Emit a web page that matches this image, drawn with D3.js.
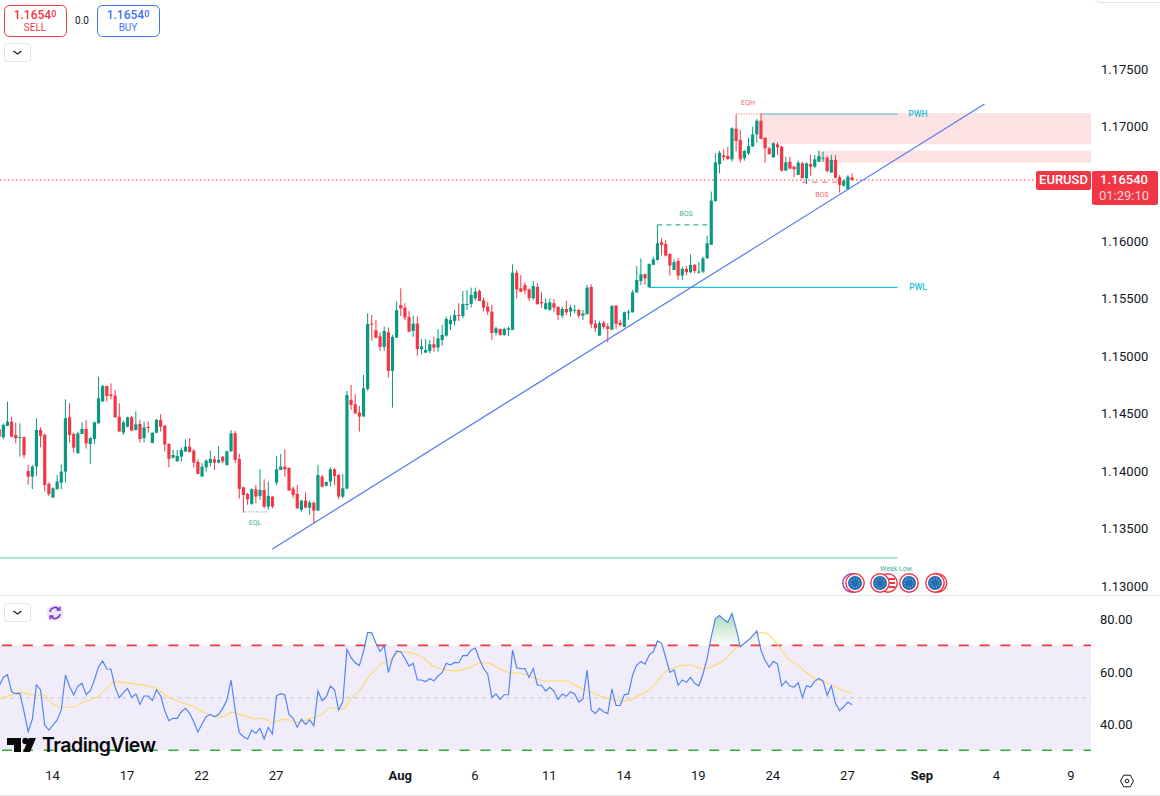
<!DOCTYPE html>
<html>
<head>
<meta charset="utf-8">
<script src="https://cdn.jsdelivr.net/npm/d3@7/dist/d3.min.js"></script>
<style>
html,body{margin:0;padding:0;background:#fff;overflow:hidden}
svg{display:block;font-family:Roboto,"Liberation Sans",sans-serif}
</style>
</head>
<body>
<svg id="c" width="1160" height="796"></svg>
<script>
// Prices are in 1/100000 units
const opens = [
114364,114294,114393,114431,114315,114291,114294,114001,113952,114039,
114358,114315,113888,113769,113842,113900,113996,114468,114323,114155,
114323,114367,114236,114280,114416,114605,114741,114668,114657,114474,
114335,114387,114468,114358,114410,114288,114384,114245,114335,114445,
114396,114236,114117,114085,114126,114170,114213,114178,114080,113952,
114033,114071,114103,114074,114126,114054,114172,114329,114106,113859,
113801,113714,113842,113784,113836,113691,113778,113900,114010,114039,
114027,113848,113801,113662,113743,113682,113726,113656,113952,113874,
113909,114016,113967,113778,113848,114620,114582,114509,114475,114715,
115284,115226,115173,115081,115208,114872,115162,115446,115423,115342,
115220,115284,115063,115031,115046,115104,115075,115141,115179,115278,
115307,115359,115350,115446,115455,115504,115568,115487,115431,115388,
115202,115237,115185,115229,115229,115727,115591,115620,115582,115504,
115603,115472,115411,115405,115461,115431,115353,115411,115388,115394,
115403,115353,115365,115603,115284,115179,115292,115260,115231,115440,
115292,115255,115379,115382,115556,115655,115713,115600,115795,115838,
115992,115977,115890,115751,115829,115702,115760,115731,115795,115728,
115737,115853,115969,116351,116673,116749,116743,116714,116981,116882,
116723,116766,116824,116931,117050,116902,116810,116731,116844,116824,
116615,116693,116650,116578,116679,116549,116673,116650,116693,116720,
116728,116598,116708,116557,116485,116453,116557];
const highs = [
114364,114416,114605,114474,114422,114416,114306,114054,114054,114460,
114381,114329,113903,113859,113967,114059,114625,114590,114335,114344,
114425,114445,114300,114431,114822,114750,114741,114764,114706,114590,
114439,114474,114480,114520,114445,114431,114431,114335,114454,114494,
114401,114242,114184,114184,114207,114277,114286,114193,114103,114068,
114103,114178,114132,114219,114132,114178,114358,114349,114149,113865,
113813,113850,113880,114016,113929,113909,113784,114132,114149,114190,
114033,113865,113880,113749,113813,113743,113735,114054,113967,113909,
114033,114025,113975,113975,114700,114750,114669,114567,114837,115373,
115359,115315,115208,115258,115249,115185,115475,115591,115461,115394,
115353,115347,115150,115150,115141,115170,115237,115272,115345,115353,
115403,115461,115568,115577,115597,115597,115582,115510,115475,115446,
115258,115243,115249,115258,115800,115750,115707,115643,115591,115655,
115634,115556,115504,115504,115498,115431,115431,115481,115446,115446,
115411,115403,115620,115626,115316,115307,115307,115286,115446,115446,
115316,115388,115403,115577,115785,115852,115722,115808,115867,116143,
116027,116012,115896,115844,115858,115780,115786,115887,115803,115818,
115867,116050,116433,116766,116789,116801,116824,116992,117105,116969,
116795,116902,116998,117065,117114,116902,116824,116862,116862,116830,
116737,116737,116656,116702,116693,116685,116752,116752,116789,116781,
116743,116752,116752,116577,116540,116577,116592];
const lows = [
114286,114277,114393,114294,114242,114126,114112,113880,113842,113958,
114207,113822,113784,113769,113842,113842,113900,114248,114161,114155,
114323,114196,114062,114236,114416,114605,114605,114625,114468,114344,
114315,114381,114352,114352,114248,114248,114335,114242,114329,114344,
114170,114033,114111,114083,114083,114170,114161,114033,113975,113952,
113996,114039,114010,114068,114068,114048,114170,114068,113761,113639,
113706,113706,113720,113749,113677,113662,113677,113877,114010,113952,
113830,113764,113668,113648,113677,113619,113540,113656,113856,113865,
113865,113880,113755,113764,113842,114533,114495,114344,114475,114698,
115133,115156,115046,115046,114814,114553,115162,115350,115315,115208,
115170,115005,115017,115031,115026,115040,115040,115092,115170,115228,
115266,115307,115330,115403,115423,115484,115481,115388,115359,115141,
115179,115179,115179,115176,115229,115504,115556,115539,115481,115490,
115452,115423,115403,115394,115382,115316,115330,115359,115345,115373,
115330,115316,115365,115243,115208,115179,115237,115121,115231,115237,
115258,115255,115316,115382,115548,115620,115620,115600,115795,115832,
115876,115867,115702,115751,115664,115664,115707,115722,115722,115716,
115722,115847,115969,116345,116592,116702,116708,116693,116781,116685,
116702,116752,116824,116859,116891,116685,116752,116728,116752,116607,
116615,116627,116557,116578,116549,116499,116569,116635,116693,116693,
116598,116598,116548,116424,116476,116453,116528];
const closes = [
114300,114402,114431,114300,114286,114297,114140,113952,114039,114358,
114306,113880,113801,113850,113909,113996,114460,114315,114204,114329,
114367,114242,114286,114425,114634,114741,114654,114654,114468,114344,
114425,114468,114352,114407,114280,114381,114378,114335,114445,114387,
114230,114106,114140,114132,114184,114213,114167,114074,113975,114039,
114091,114106,114074,114097,114085,114172,114329,114097,113845,113792,
113755,113842,113778,113836,113691,113784,113691,114016,114039,114016,
113830,113792,113677,113743,113682,113726,113656,113967,113865,113906,
114016,113958,113778,113850,114662,114576,114503,114474,114721,115281,
115275,115162,115081,115220,114872,115168,115400,115417,115336,115214,
115284,115063,115086,115055,115104,115075,115156,115185,115324,115315,
115359,115350,115455,115455,115533,115562,115481,115423,115388,115202,
115243,115185,115237,115243,115727,115582,115562,115571,115504,115611,
115452,115461,115461,115469,115423,115359,115411,115382,115423,115403,
115353,115371,115597,115278,115243,115289,115255,115237,115437,115281,
115272,115382,115388,115556,115663,115713,115678,115803,115844,115983,
115969,115876,115789,115818,115702,115760,115731,115795,115742,115737,
115853,115983,116354,116685,116772,116731,116717,116984,116873,116714,
116786,116830,116931,117050,116891,116810,116760,116853,116818,116615,
116688,116633,116627,116685,116549,116679,116650,116714,116743,116728,
116612,116708,116554,116491,116525,116563,116534];

const rsiValues = [
54.5,57.8,58.8,52.3,51.6,51.7,44.7,37.1,41.8,54.9,
53.0,39.6,37.7,39.6,41.6,45.4,58.7,54.3,51.1,54.5,
55.5,51.3,52.7,56.8,61.9,64.0,61.0,60.9,54.0,50.1,
52.0,53.6,50.2,51.5,47.5,50.7,50.7,49.0,53.0,50.8,
45.1,41.3,42.2,42.2,44.7,46.0,44.1,40.9,37.0,40.0,
42.8,43.7,42.8,43.7,46.0,49.2,56.8,45.4,36.7,35.2,
34.3,37.7,36.5,38.4,34.3,38.8,36.2,50.8,51.6,51.1,
43.7,42.2,38.8,41.8,39.9,41.6,39.3,52.6,48.9,50.4,
54.5,53.0,45.4,48.5,68.5,65.3,63.4,62.3,67.6,75.0,
74.8,70.8,67.6,69.9,59.6,65.0,67.8,67.6,65.0,62.1,
63.2,56.8,56.8,56.2,57.3,56.5,58.3,59.6,63.2,62.5,
63.5,63.4,66.1,66.1,68.2,69.0,64.7,61.2,59.1,50.1,
51.5,49.4,51.2,51.2,68.2,61.5,61.1,61.2,57.8,61.2,
54.8,54.8,52.6,54.0,52.6,49.4,51.5,50.6,52.3,51.5,
48.4,49.5,60.6,45.4,44.0,46.0,44.7,44.0,53.4,47.1,
47.1,51.2,51.5,58.7,62.5,63.8,62.8,66.3,67.6,71.7,
70.8,65.4,59.7,60.7,54.8,56.8,55.9,57.8,55.5,54.6,
59.1,65.0,73.3,80.3,81.4,79.9,78.8,82.2,76.5,69.4,
70.8,72.0,73.7,75.5,68.2,64.2,61.7,63.9,62.9,54.5,
56.4,54.5,54.1,55.8,50.1,54.6,54.1,56.4,57.4,56.4,
51.0,54.6,47.9,45.1,46.6,48.4,47.4];

const rsiMaBars = [0,4,5,8,11,12,15,18,20,23,26,28,30,33,36,38,41,44,47,50,53,55,56,58,61,64,66,69,72,75,78,80,83,85,87,89,90,92,94,96,97,100,102,104,
105,107,110,113,115,116,118,120,123,126,129,132,135,137,140,142,145,148,151,153,155,157,159,161,163,165,167,169,170,172,174,176,178,180,182,184,185,187,189,191,193,195,197,199,201,203,206];
const rsiMaValues = [49.4,51.7,52.2,51.1,51.1,48.9,46.4,46.6,48.2,49.7,53.6,56.2,55.9,55.3,54.5,53.5,50.2,48.2,46.6,44.1,42.7,43.5,44.5,43.8,42.3,41.9,40.7,41.8,40.7,42.1,43.8,46.2,45.7,49.8,52.7,57.4,59.3,62.5,64.0,66.7,67.6,67.0,65.7,63.2,
61.9,61.0,60.3,61.2,62.5,63.2,63.2,61.9,59.7,59.3,57.8,56.3,56.5,56.4,54.0,53.0,50.8,49.4,48.9,49.7,51.3,53.0,56.2,60.0,61.5,62.4,62.5,61.4,61.1,61.9,63.2,65.7,68.9,70.8,73.6,74.8,74.8,72.3,68.2,64.4,62.5,59.7,57.4,56.2,54.9,53.4,51.8];

const priceTicks = [1.175,1.17,1.16,1.155,1.15,1.145,1.14,1.135,1.13];
const rsiTicks = [80,60,40];
const timeTickBars = [13,31,49,67,97,115,133,151,169,187,205,223,241,259];
const timeTickLabels = ["14","17","22","27","Aug","6","11","14","19","24","27","Sep","4","9"];
const boldTimeLabels = ["Aug","Sep"];
const lastPrice = 1.1654;
const trendBars = [66,238];
const trendPrices = [1.13322,1.17195];
const weakLowLevel = 1.13244, pwhLevel = 1.17108, pwlLevel = 1.15600;
const supplyZoneA = [1.17117,1.16847], supplyZoneB = [1.16789,1.16684];
const bosUpLevel = 1.16143, bosDownLevel = 1.16515, eqlLevel = 1.13645;

const W=1160,H=796;
const red="#f23645",green="#089981",cyan="#22c1d6",ink="#131722",grid="#e0e3eb";
const svg=d3.select("#c");
const x=d3.scaleLinear().domain([0,206]).range([-0.81,852.03]);
const y=d3.scaleLinear().domain([1.13,1.175]).range([586,69]);
const yR=d3.scaleLinear().domain([30,70]).range([750.3,645.4]);
const X=i=>x(i);
const paneRight=1091;

// Zones
[[supplyZoneA,184],[supplyZoneB,198]].forEach(([z,start])=>{
  svg.append("rect").attr("x",x(start)).attr("width",paneRight-x(start))
    .attr("y",y(z[0])).attr("height",y(z[1])-y(z[0])).attr("fill","#fde3e4");
});

// Weak low, PWH, PWL
const hline=(b0,b1,p,stroke,w,dash)=>svg.append("line").attr("x1",x(b0)).attr("x2",x(b1)).attr("y1",y(p)).attr("y2",y(p))
  .attr("stroke",stroke).attr("stroke-width",w).attr("stroke-dasharray",dash||null);
hline(x.invert(0),217,weakLowLevel,"#79d0c2",1.2);
hline(184,217,pwhLevel,"#74c4d3",1.2);
hline(157,217,pwlLevel,cyan,1.2);

// Last price line, straddling two pixel rows like the source's soft dots
const lastY=Math.round(y(lastPrice))+1;
svg.append("line").attr("x1",0).attr("x2",1035).attr("y1",lastY).attr("y2",lastY)
  .attr("stroke",red).attr("stroke-width",1).attr("stroke-dasharray","1.5 2.5");

// Candles
const idx=d3.range(opens.length);
const col=i=>closes[i]>=opens[i]?green:red;
const g=svg.append("g");
g.selectAll("line.w").data(idx).join("line").attr("x1",X).attr("x2",X)
  .attr("y1",i=>y(highs[i]/1e5)).attr("y2",i=>y(lows[i]/1e5)).attr("stroke",col).attr("stroke-width",1);
g.selectAll("rect.b").data(idx).join("rect").attr("x",i=>X(i)-1.6).attr("width",3.2)
  .attr("y",i=>y(Math.max(opens[i],closes[i])/1e5))
  .attr("height",i=>Math.max(1,Math.abs(y(opens[i]/1e5)-y(closes[i]/1e5)))).attr("fill",col);

// Structure annotations
hline(178,184,pwhLevel,red,1,"1 1.5").attr("opacity",.75);
hline(159,171,bosUpLevel,green,1,"5 4");
hline(194,203,bosDownLevel,red,1,"5 5").attr("opacity",.8);
hline(59,65,eqlLevel,green,1,"1 1.5").attr("opacity",.8);

const note=(t,px,py,c,fs)=>svg.append("text").attr("x",px).attr("y",py).attr("text-anchor","middle")
  .attr("dominant-baseline","middle").attr("font-size",fs||7).attr("fill",c).attr("opacity",.8).text(t);
note("EQH",748,103,red);
note("BOS",686,214,green);
note("BOS",822,195,red);
note("EQL",255,523,green);
note("Weak Low",896,569,green);
note("PWH",918,114.5,cyan,8.5).attr("opacity",1).attr("font-weight",500);
note("PWL",918,287.5,cyan,8.5).attr("opacity",1).attr("font-weight",500);

// Trend line
svg.append("line").attr("x1",x(trendBars[0])).attr("x2",x(trendBars[1]))
  .attr("y1",y(trendPrices[0])).attr("y2",y(trendPrices[1]))
  .attr("stroke","#5079f0").attr("stroke-width",1.2);

// News flags
function flag(cx,cy,kind){
  const f=svg.append("g");
  if(kind==="eu"){
    f.append("circle").attr("cx",cx).attr("cy",cy).attr("r",9.2).attr("fill","#fff").attr("stroke",red).attr("stroke-width",1.4);
    f.append("circle").attr("cx",cx).attr("cy",cy).attr("r",7).attr("fill","#1f6fc0");
    d3.range(10).forEach(a=>f.append("circle").attr("cx",cx+4.4*Math.cos(a*Math.PI/5)).attr("cy",cy+4.4*Math.sin(a*Math.PI/5)).attr("r",.6).attr("fill","#e3c23a"));
  } else if(kind==="us"){
    f.append("circle").attr("cx",cx).attr("cy",cy).attr("r",9.2).attr("fill","#fff").attr("stroke",red).attr("stroke-width",1.4);
    [-4,0,4].forEach(d=>f.append("rect").attr("x",cx-7).attr("y",cy+d-1).attr("width",14).attr("height",2).attr("fill",red));
  } else if(kind==="ring"){
    f.append("circle").attr("cx",cx).attr("cy",cy).attr("r",9.2).attr("fill","#fff").attr("stroke",red).attr("stroke-width",1.4);
  } else {
    f.append("circle").attr("cx",cx).attr("cy",cy).attr("r",9.2).attr("fill","#fff").attr("stroke","#9c3fc4").attr("stroke-width",1.4);
  }
}
flag(852,583,"purple"); flag(855,583,"eu");
flag(888,583,"us"); flag(880,583,"eu");
flag(909,583,"eu");
flag(937.5,583,"ring"); flag(935,583,"eu");

// Pane separators
svg.append("line").attr("x1",0).attr("x2",W).attr("y1",595.5).attr("y2",595.5).attr("stroke",grid);
svg.append("line").attr("x1",0).attr("x2",W).attr("y1",795.5).attr("y2",795.5).attr("stroke",grid);
svg.append("path").attr("d","M1095,0 Q1097,2.5 1101,2.5 H1160").attr("fill","none").attr("stroke",grid);

// RSI pane
svg.append("rect").attr("x",0).attr("width",paneRight).attr("y",yR(70)).attr("height",yR(30)-yR(70)).attr("fill","#f0ecfa");
const defs=svg.append("defs");
const grad=defs.append("linearGradient").attr("id","ob").attr("gradientUnits","userSpaceOnUse")
  .attr("x1",0).attr("x2",0).attr("y1",yR(82)).attr("y2",yR(70));
grad.append("stop").attr("offset",0).attr("stop-color","#2e9e4f").attr("stop-opacity",.38);
grad.append("stop").attr("offset",1).attr("stop-color","#2e9e4f").attr("stop-opacity",.02);
const rsiArea=d3.area().x((d,i)=>X(i)).y0(yR(70)).y1(d=>yR(Math.max(d,70)));
svg.append("path").attr("d",rsiArea(rsiValues)).attr("fill","url(#ob)");
const rsiDash=(v,c,w)=>svg.append("line").attr("x1",2).attr("x2",paneRight).attr("y1",yR(v)).attr("y2",yR(v))
  .attr("stroke",c).attr("stroke-width",w).attr("stroke-dasharray","10 10.8");
rsiDash(70,red,1.6); rsiDash(30,"#2fae3c",1.6);
rsiDash(50,"#c9c9d2",1).attr("stroke-dasharray","4 4");
svg.append("path").attr("d",d3.line().x((d,i)=>X(rsiMaBars[i])).y(d=>yR(d)).curve(d3.curveMonotoneX)(rsiMaValues))
  .attr("fill","none").attr("stroke","#ffd966").attr("stroke-width",1.1);
svg.append("path").attr("d",d3.line().x((d,i)=>X(i)).y(d=>yR(d))(rsiValues))
  .attr("fill","none").attr("stroke","#4f82f5").attr("stroke-width",1.15);

// Price axis
const axP=svg.append("g").attr("transform","translate(1101,0)").call(d3.axisRight(y).tickValues(priceTicks).tickSize(0).tickPadding(0).tickFormat(d3.format(".5f")));
axP.select(".domain").remove(); axP.selectAll("text").attr("font-family","Roboto").attr("font-size",13).attr("fill",ink);
const axR=svg.append("g").attr("transform","translate(1100,0.6)").call(d3.axisRight(yR).tickValues(rsiTicks).tickSize(0).tickPadding(0).tickFormat(d3.format(".2f")));
axR.select(".domain").remove(); axR.selectAll("text").attr("font-family","Roboto").attr("font-size",13).attr("fill",ink);
// Time axis
const axT=svg.append("g").attr("transform","translate(-1,771)").call(d3.axisBottom(x).tickValues(timeTickBars).tickSize(0).tickPadding(0).tickFormat((d,i)=>timeTickLabels[i]));
axT.select(".domain").remove(); axT.selectAll("text").attr("font-family","Roboto").attr("font-size",13).attr("fill",ink)
  .attr("font-weight",(d,i)=>boldTimeLabels.includes(timeTickLabels[i])?700:400);

// Price labels
svg.append("rect").attr("x",1036).attr("y",171).attr("width",55).attr("height",19).attr("rx",2).attr("fill",red);
svg.append("text").attr("x",1063.5).attr("y",181).attr("text-anchor","middle").attr("dominant-baseline","middle").attr("fill","#fff").attr("font-size",13).attr("font-weight",500).text("EURUSD");
svg.append("rect").attr("x",1092).attr("y",171).attr("width",66).attr("height",34).attr("rx",2).attr("fill",red);
svg.append("text").attr("x",1124).attr("y",181).attr("text-anchor","middle").attr("dominant-baseline","middle").attr("fill","#fff").attr("font-size",13).attr("font-weight",500).text(d3.format(".5f")(lastPrice));
svg.append("text").attr("x",1124).attr("y",197).attr("text-anchor","middle").attr("dominant-baseline","middle").attr("fill","#ffd5d9").attr("font-size",13).text("01:29:10");

// Top buttons
function tradeBtn(bx,c,label){
  svg.append("rect").attr("x",bx+.5).attr("y",5.5).attr("width",62).attr("height",31).attr("rx",5).attr("fill","#fff").attr("stroke",c).attr("stroke-width",1);
  const t=svg.append("text").attr("x",bx+31).attr("y",19).attr("text-anchor","middle").attr("font-size",12).attr("fill",c).attr("font-weight",500).text("1.1654");
  t.append("tspan").attr("font-size",9).attr("dy",-2).text("0");
  svg.append("text").attr("x",bx+31).attr("y",31).attr("text-anchor","middle").attr("font-size",10).attr("fill",c).text(label);
}
tradeBtn(4,red,"SELL"); tradeBtn(97,"#3d74f5","BUY");
svg.append("text").attr("x",82).attr("y",24).attr("text-anchor","middle").attr("font-size",10).attr("fill",ink).text("0.0");
function dropdown(dy){
  svg.append("rect").attr("x",4.5).attr("y",dy+.5).attr("width",26).attr("height",18).attr("rx",3).attr("fill","#fff").attr("stroke",grid);
  svg.append("path").attr("d",`M13.5,${dy+8} l4,3 l4,-3`).attr("fill","none").attr("stroke",ink).attr("stroke-width",1.2);
}
dropdown(43); dropdown(603);
// Reload icon
svg.append("circle").attr("cx",55).attr("cy",613).attr("r",8.5).attr("fill","#ede7f6");
svg.append("path").attr("d","M50,612 a5,5 0 0 1 9,-2.5 M60,614 a5,5 0 0 1 -9,2.5").attr("fill","none").attr("stroke","#7a2fd0").attr("stroke-width",1.6);
svg.append("path").attr("d","M60,606.5 v3.5 h-3.5 M50,619.5 v-3.5 h3.5").attr("fill","none").attr("stroke","#7a2fd0").attr("stroke-width",1.3);

// Logo
svg.append("path").attr("d","M7,738 H21 V752 H14 V745 H7 Z").attr("fill","#0b0b0b");
svg.append("circle").attr("cx",25.5).attr("cy",741).attr("r",3.2).attr("fill","#0b0b0b");
svg.append("path").attr("d","M29,738 H36 L30,752 H23 Z").attr("fill","#0b0b0b");
svg.append("text").attr("x",42).attr("y",752).attr("font-family","Inter").attr("font-size",19.5).attr("font-weight",600).attr("fill","#0b0b0b").attr("textLength",114).text("TradingView");

// Settings icon
svg.append("path").attr("d","M1120.5,781 l3.2,-5.8 h6.6 l3.2,5.8 l-3.2,5.8 h-6.6 Z").attr("fill","none").attr("stroke",ink).attr("stroke-width",1);
svg.append("circle").attr("cx",1127).attr("cy",781).attr("r",1.8).attr("fill","none").attr("stroke",ink);
</script>
</body>
</html>
